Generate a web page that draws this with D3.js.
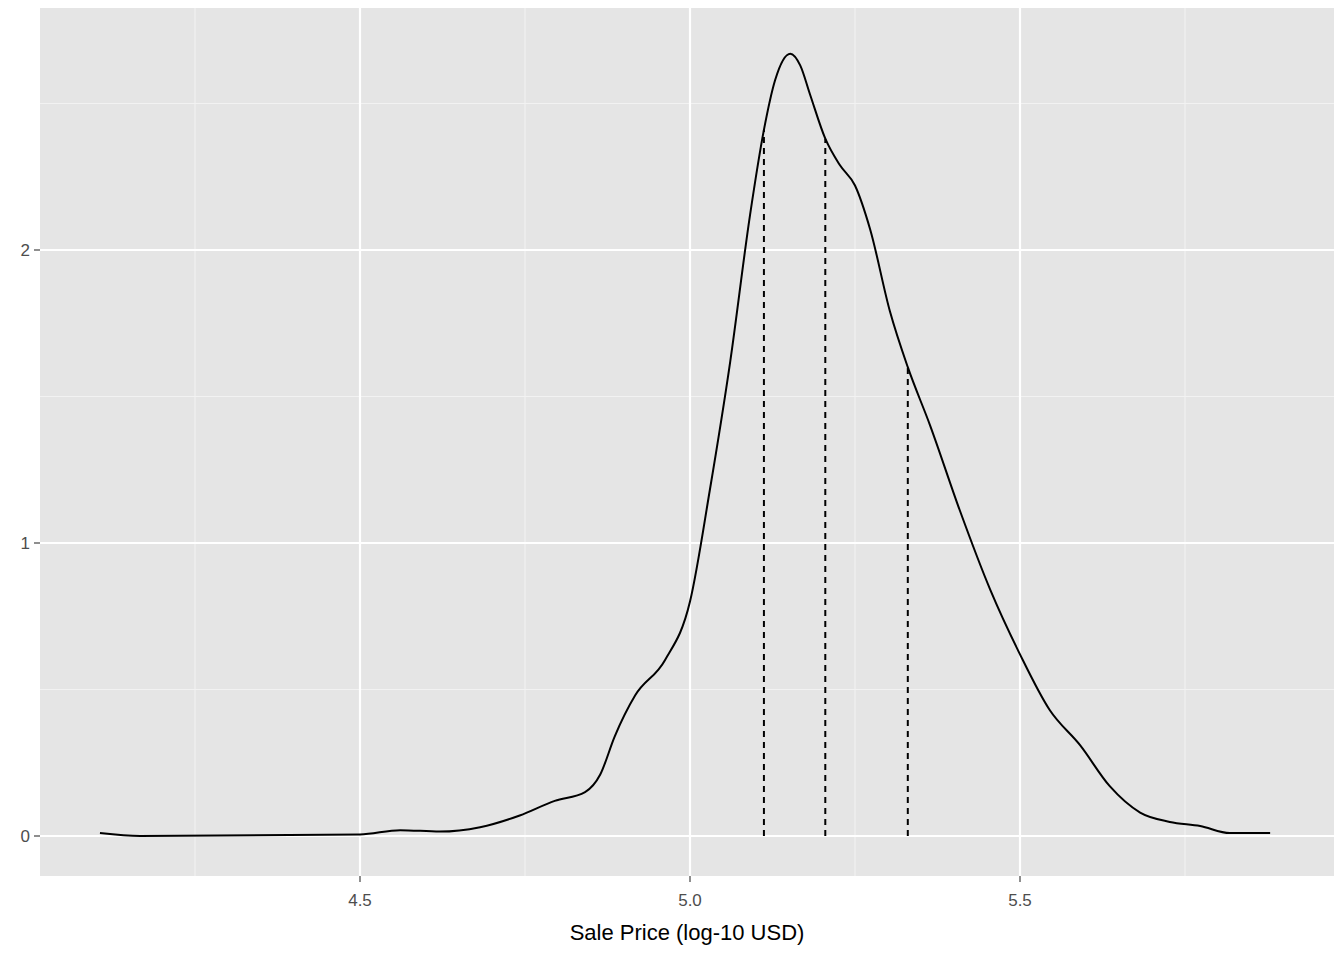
<!DOCTYPE html>
<html><head><meta charset="utf-8">
<script src="https://cdn.jsdelivr.net/npm/d3@7"></script>
<style>body{margin:0;background:#fff}text{font-family:"Liberation Sans",Arial,sans-serif}</style>
</head><body>
<svg id="c" width="1344" height="960"></svg>
<script>
// density curve
const priceX = [4.106,4.167,4.5,4.561,4.621,4.682,4.742,4.795,4.841,4.864,4.886,4.917,4.962,5.0,5.030,5.061,5.091,5.112,5.129,5.152,5.167,5.182,5.205,5.227,5.250,5.273,5.303,5.330,5.364,5.409,5.455,5.5,5.545,5.591,5.636,5.682,5.727,5.773,5.818,5.879]
const density = [0.01,0.0,0.005,0.02,0.015,0.03,0.07,0.12,0.15,0.21,0.34,0.48,0.6,0.8,1.18,1.62,2.12,2.41,2.58,2.67,2.63,2.53,2.38,2.29,2.22,2.07,1.79,1.6,1.40,1.11,0.84,0.62,0.43,0.31,0.17,0.08,0.048,0.034,0.01,0.01]
// dashed quartile lines
const quartX = [5.112,5.205,5.330]
const quartY = [2.41,2.38,1.6]
const xMajor = [4.5,5.0,5.5], xMinor = [4.25,4.75,5.25,5.75]
const yMajor = [0,1,2], yMinor = [0.5,1.5,2.5]

const svg = d3.select("#c")
const L = 40, R = 1334, T = 8, B = 876
const x = d3.scaleLinear().domain([4, 5.5]).range([30, 1020])
const y = d3.scaleLinear().domain([0, 2]).range([836, 250])

svg.append("rect").attr("x", L).attr("y", T).attr("width", R-L).attr("height", B-T).attr("fill", "#e5e5e5")
const g = svg.append("g")
xMinor.forEach(v => g.append("line").attr("x1", x(v)).attr("x2", x(v)).attr("y1", T).attr("y2", B).attr("stroke", "#f2f2f2").attr("stroke-width", 1.1))
yMinor.forEach(v => g.append("line").attr("y1", y(v)).attr("y2", y(v)).attr("x1", L).attr("x2", R).attr("stroke", "#f2f2f2").attr("stroke-width", 1.1))
xMajor.forEach(v => g.append("line").attr("x1", x(v)).attr("x2", x(v)).attr("y1", T).attr("y2", B).attr("stroke", "#fff").attr("stroke-width", 2.2))
yMajor.forEach(v => g.append("line").attr("y1", y(v)).attr("y2", y(v)).attr("x1", L).attr("x2", R).attr("stroke", "#fff").attr("stroke-width", 2.2))

const line = d3.line().x(d => x(d[0])).y(d => y(d[1])).curve(d3.curveMonotoneX)
svg.append("path").datum(d3.zip(priceX, density)).attr("d", line)
  .attr("fill", "none").attr("stroke", "#000").attr("stroke-width", 2)

quartX.forEach((v, i) => svg.append("line").attr("x1", x(v)).attr("x2", x(v))
  .attr("y1", y(0)).attr("y2", y(quartY[i])).attr("stroke", "#000").attr("stroke-width", 2).attr("stroke-dasharray", "6,5"))

xMajor.forEach(v => {
  svg.append("line").attr("x1", x(v)).attr("x2", x(v)).attr("y1", B).attr("y2", B+6).attr("stroke", "#333").attr("stroke-width", 1.1)
  svg.append("text").attr("x", x(v)).attr("y", B+30).attr("text-anchor", "middle").attr("font-size", 17).attr("fill", "#4d4d4d").text(d3.format(".1f")(v))
})
yMajor.forEach(v => {
  svg.append("line").attr("x1", L-6).attr("x2", L).attr("y1", y(v)).attr("y2", y(v)).attr("stroke", "#333").attr("stroke-width", 1.1)
  svg.append("text").attr("x", L-10).attr("y", y(v)+6).attr("text-anchor", "end").attr("font-size", 17).attr("fill", "#4d4d4d").text(v)
})
svg.append("text").attr("x", (L+R)/2).attr("y", 940).attr("text-anchor", "middle").attr("font-size", 22).attr("fill", "#000").text("Sale Price (log-10 USD)")
</script>
</body></html>
